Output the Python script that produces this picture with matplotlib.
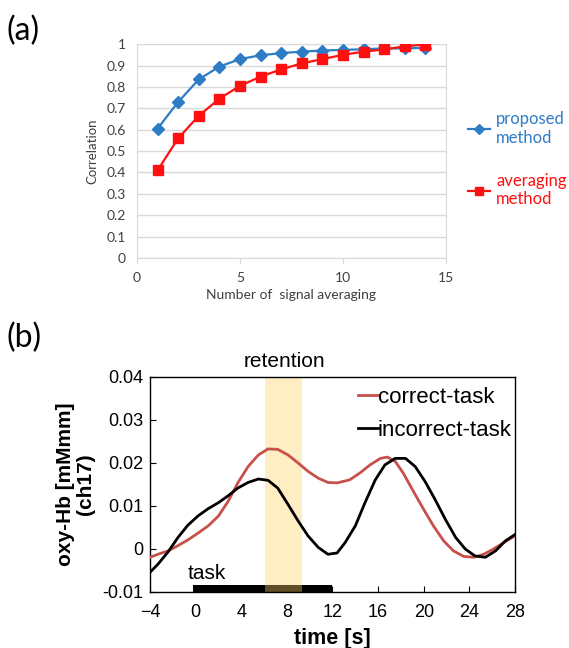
import matplotlib
matplotlib.use("Agg")
import matplotlib.pyplot as plt
import numpy as np

# ---------------- data (a) ----------------
n_avg = [1, 2, 3, 4, 5, 6, 7, 8, 9, 10, 11, 12, 13, 14]
proposed = [0.605, 0.73, 0.835, 0.895, 0.93, 0.948, 0.958, 0.965, 0.970, 0.973, 0.976, 0.980, 0.980, 0.983]
averaging = [0.41, 0.56, 0.665, 0.745, 0.805, 0.848, 0.882, 0.910, 0.930, 0.950, 0.965, 0.975, 0.990, 0.998]
a_yticks = [0, 0.1, 0.2, 0.3, 0.4, 0.5, 0.6, 0.7, 0.8, 0.9, 1]
a_yticklabels = ["0", "0.1", "0.2", "0.3", "0.4", "0.5", "0.6", "0.7", "0.8", "0.9", "1"]
a_xticks = [0, 5, 10, 15]

# ---------------- data (b) ----------------
t_correct = [-4.0, -3.3, -2.4, -1.55, -0.7, 0.2, 1.1, 2.0, 2.85, 3.7, 4.6, 5.5, 6.35, 7.2,
             8.1, 9.0, 9.85, 10.75, 11.6, 12.4, 13.5, 14.4, 15.3, 16.2, 16.8, 17.5, 18.2,
             19.1, 20.0, 20.85, 21.75, 22.6, 23.5, 24.4, 25.25, 26.1, 27.0, 28.0]
correct = [-0.0020, -0.0013, -0.0005, 0.0007, 0.0020, 0.0036, 0.0053, 0.0076, 0.0110, 0.0153,
           0.0191, 0.0218, 0.0232, 0.0231, 0.0218, 0.0199, 0.0180, 0.0164, 0.0154, 0.0153,
           0.0160, 0.0176, 0.0195, 0.0210, 0.0213, 0.0203, 0.0176, 0.0133, 0.0091, 0.0053,
           0.0018, -0.0005, -0.0018, -0.0020, -0.0013, -0.0001, 0.0014, 0.0030]
t_incorrect = [-4.0, -3.3, -2.4, -1.55, -0.7, 0.2, 1.1, 2.0, 2.85, 3.7, 4.6, 5.5, 6.35, 7.2,
               8.1, 9.0, 9.85, 10.75, 11.6, 12.4, 13.1, 14.0, 14.85, 15.75, 16.6, 17.5, 18.4,
               19.25, 20.1, 21.0, 21.9, 22.8, 23.65, 24.5, 25.4, 26.3, 27.15, 28.0]
incorrect = [-0.0055, -0.0036, -0.0007, 0.0026, 0.0054, 0.0076, 0.0093, 0.0107, 0.0123, 0.0141,
             0.0154, 0.0162, 0.0159, 0.0141, 0.0103, 0.0064, 0.0030, 0.0003, -0.0013, -0.0010,
             0.0014, 0.0053, 0.0107, 0.0160, 0.0195, 0.0210, 0.0210, 0.0191, 0.0157, 0.0114,
             0.0068, 0.0026, -0.0001, -0.0017, -0.0020, -0.0005, 0.0018, 0.0033]
b_xticks = [-4, 0, 4, 8, 12, 16, 20, 24, 28]
b_yticks = [-0.01, 0, 0.01, 0.02, 0.03, 0.04]
b_yticklabels = ["-0.01", "0", "0.01", "0.02", "0.03", "0.04"]
task_span = (-0.2, 12)
retention_span = (6.1, 9.35)

fig = plt.figure(figsize=(5.69, 6.48), dpi=100)
LATO = ["Lato", "DejaVu Sans"]
LIB = ["Liberation Sans", "DejaVu Sans"]

# ---------------- panel (a) ----------------
axa = fig.add_axes([0.2408, 0.6019, 0.543, 0.330])
blue = "#2E7CC6"
red = "#FF1010"
axa.plot(n_avg, proposed, color=blue, lw=1.6, marker="D", ms=6, label="proposed\nmethod", zorder=3)
axa.plot(n_avg, averaging, color=red, lw=1.6, marker="s", ms=7, label="averaging\nmethod", zorder=3)
axa.set_xlim(0, 15)
axa.set_ylim(0, 1)
axa.set_yticks(a_yticks)
axa.set_yticklabels(a_yticklabels)
axa.set_xticks(a_xticks)
axa.grid(axis="y", color="#D9D9D9", lw=1.0)
axa.set_axisbelow(True)
for s in axa.spines.values():
    s.set_color("#D9D9D9")
axa.tick_params(axis="y", length=0, labelsize=10, labelcolor="#404040", pad=8)
axa.tick_params(axis="x", length=4, color="#D9D9D9", labelsize=10, labelcolor="#404040", pad=6)
for lab in axa.get_xticklabels() + axa.get_yticklabels():
    lab.set_family(LATO)
axa.set_ylabel("Correlation", fontsize=9.5, color="#404040", family=LATO, labelpad=6)
axa.set_xlabel("Number of  signal averaging", fontsize=10, color="#404040",
               family=LATO, labelpad=4)
leg = axa.legend(loc="upper left", bbox_to_anchor=(1.071, 0.685), frameon=False,
                 borderpad=0, borderaxespad=0, labelspacing=1.6, handlelength=1.3,
                 handletextpad=0.4, labelcolor="linecolor",
                 prop={"family": LATO, "size": 12})
for h in leg.legend_handles:
    h.set_markersize(5.5)
fig.text(0.012, 0.953, "(a)", fontsize=23, family=LATO, va="center", ha="left")

# ---------------- panel (b) ----------------
axb = fig.add_axes([0.2636, 0.0869, 0.6415, 0.3318])
axb.fill_between(task_span, -0.01, -0.0085, color="black", lw=0, zorder=2)
axb.axvspan(retention_span[0], retention_span[1], color="#FFD266", alpha=0.38, lw=0, zorder=2.5)
axb.plot(t_correct, correct, color="#C8504B", lw=2.0, label="correct-task", zorder=3)
axb.plot(t_incorrect, incorrect, color="black", lw=2.0, label="incorrect-task", zorder=3)
axb.set_xlim(-4, 28)
axb.set_ylim(-0.01, 0.04)
axb.set_xticks(b_xticks)
axb.set_yticks(b_yticks)
axb.set_yticklabels(b_yticklabels)
axb.tick_params(direction="in", length=4, labelsize=13, pad=5)
axb.tick_params(axis="x", pad=9)
for lab in axb.get_xticklabels() + axb.get_yticklabels():
    lab.set_family(LIB)
for s in axb.spines.values():
    s.set_linewidth(1.0)
axb.set_xlabel("time [s]", fontsize=15.5, fontweight="bold", family=LIB, labelpad=5)
axb.set_ylabel("oxy-Hb [mMmm]\n(ch17)", fontsize=15, fontweight="bold", family=LIB,
               linespacing=1.1)
axb.yaxis.set_label_coords(-0.15, 0.5)
axb.legend(loc="upper right", bbox_to_anchor=(1.0, 0.967), frameon=False, borderpad=0.15,
           borderaxespad=0, handlelength=0.9, handletextpad=0.0, labelspacing=0.53,
           prop={"family": LIB, "size": 16})
axb.text(7.8, 0.0413, "retention", ha="center", va="bottom", fontsize=15, family=LIB)
axb.text(1.0, -0.0058, "task", ha="center", va="center", fontsize=15, family=LIB)
fig.text(0.012, 0.478, "(b)", fontsize=23, family=LATO, va="center", ha="left")

fig.savefig("out.png", dpi=100)
